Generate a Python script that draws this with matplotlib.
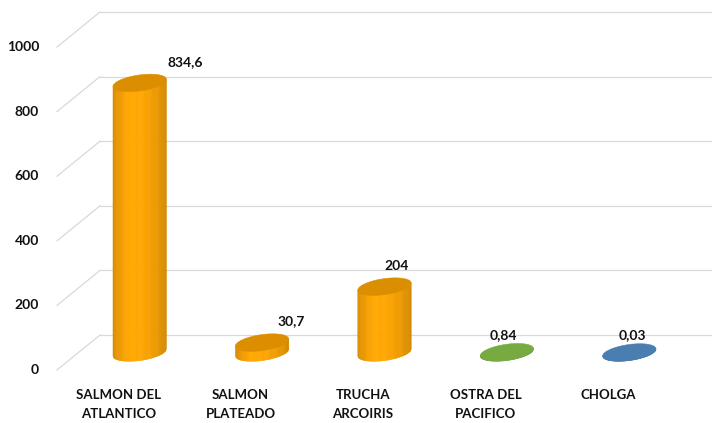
import numpy as np
import matplotlib
matplotlib.use("Agg")
from matplotlib import pyplot as plt
from matplotlib.collections import PolyCollection
from matplotlib.patches import Polygon

categories = ["SALMON DEL\nATLANTICO", "SALMON\nPLATEADO", "TRUCHA\nARCOIRIS",
              "OSTRA DEL\nPACIFICO", "CHOLGA"]
values = [834.6, 30.7, 204, 0.84, 0.03]
value_labels = ["834,6", "30,7", "204", "0,84", "0,03"]
y_ticks = [0, 200, 400, 600, 800, 1000]

# styling (kept apart from the data)
bar_colors = [(255, 165, 0), (255, 165, 0), (255, 165, 0), (120, 170, 66), (74, 125, 176)]
label_dx = [46, 29, 12, -4, 3]      # px offset of value labels
label_dy = [21, 22, 21, 17, 17]
GRID = "#d9d9d9"
TXT = "#111111"
FONT = "Lato"

W, H = 712, 423
fig = plt.figure(figsize=(W / 100, H / 100), dpi=100)
ax = fig.add_axes([78.5 / W, 70.5 / H, 612 / W, 323 / H])
ax.set_xlim(-0.5, 4.5)
ax.set_ylim(0, 1000)
ax.axis("off")

px_x = 612 / 5.0      # pixels per x unit
px_y = 323 / 1000.0   # pixels per y unit
dxd = 21.5 / px_x     # depth offset (front/back plane)
dyd = 17.5 / px_y

# back wall + diagonal grid lines
for v in y_ticks:
    ax.plot([-0.5 + dxd, 4.5 + dxd], [v + dyd, v + dyd], color=GRID, lw=0.9,
            clip_on=False, zorder=1)
    ax.plot([-0.5 - dxd, -0.5 + dxd], [v - dyd, v + dyd], color=GRID, lw=0.9,
            clip_on=False, zorder=1)
    ax.text(-0.5 - dxd - 18 / px_x, v - dyd, str(v), ha="right", va="center",
            fontsize=10, fontweight="bold", color=TXT, family=FONT)


def shade(rgb, f):
    return tuple(min(1.0, c / 255.0 * f) for c in rgb)


# lighting profile across the cylinder (left -> right)
light_u = [-1.0, -0.85, -0.4, 0.1, 0.6, 0.9, 1.0]
light_f = [0.84, 0.90, 1.02, 1.0, 0.93, 0.86, 0.82]

half_w = 0.218
b = 8 / px_y          # half height of ellipse
s = (3.5 / px_y) / half_w   # slight tilt

for i, (v, col) in enumerate(zip(values, bar_colors)):
    cx = i
    xs = np.linspace(cx - half_w, cx + half_w, 61)
    u = (xs - cx) / half_w
    bottom = -b * np.sqrt(np.clip(1 - u ** 2, 0, 1)) + s * (xs - cx)
    top = v + s * (xs - cx)
    polys, cols = [], []
    for k in range(len(xs) - 1):
        polys.append([(xs[k], top[k]), (xs[k + 1], top[k + 1]),
                      (xs[k + 1], bottom[k + 1]), (xs[k], bottom[k])])
        um = 0.5 * (u[k] + u[k + 1])
        cols.append(shade(col, np.interp(um, light_u, light_f)))
    pc = PolyCollection(polys, facecolors=cols, edgecolors=cols, linewidths=0.4,
                        clip_on=False, zorder=3)
    ax.add_collection(pc)
    t = np.linspace(0, 2 * np.pi, 120)
    ex = cx + half_w * np.cos(t)
    ey = v + b * np.sin(t) + s * (ex - cx)
    top_col = shade(col, 0.86) if i < 3 else shade(col, 1.0)
    ax.add_patch(Polygon(np.column_stack([ex, ey]), closed=True, facecolor=top_col,
                         edgecolor=top_col, lw=0.4, clip_on=False, zorder=4))
    ax.annotate(value_labels[i], (cx, v), xytext=(label_dx[i] * 0.72, label_dy[i] * 0.72),
                textcoords="offset points", ha="center", va="center", fontsize=10,
                fontweight="bold", color=TXT, family=FONT, annotation_clip=False)
    ax.text(cx - dxd, -dyd - 19 / px_y, categories[i], ha="center", va="top",
            multialignment="center", linespacing=1.65, fontsize=9.5, fontweight="bold",
            color=TXT, family=FONT)

fig.savefig("out.png", dpi=100, facecolor="white")
